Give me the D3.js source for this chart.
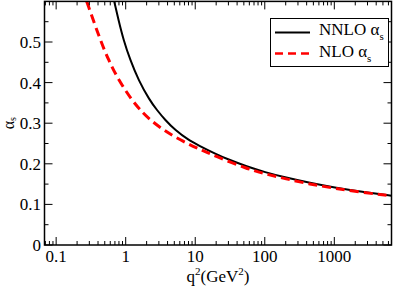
<!DOCTYPE html>
<html>
<head>
<meta charset="utf-8">
<script src="https://cdn.jsdelivr.net/npm/d3@7"></script>
<style>
  body { margin: 0; background: #fff; }
</style>
</head>
<body>
<div id="chart"></div>
<script>
// Data
const q2NNLO = [0.684, 0.788, 0.93, 1.16, 1.527, 2.2, 2.81, 3.69, 5.14, 7.98, 11.0, 20, 30, 55, 100, 200, 447, 1000, 2500, 6640];
const alphaNNLO = [0.600, 0.554, 0.505, 0.456, 0.406, 0.357, 0.3325, 0.308, 0.283, 0.2586, 0.246, 0.2237, 0.2105, 0.1934, 0.1795, 0.166, 0.153, 0.1415, 0.131, 0.1215];

const q2NLO = [0.275, 0.43, 0.566, 0.788, 1.227, 1.616, 2.25, 3.49, 6.07, 11.1, 20, 55, 100, 200, 447, 1000, 2500, 6640];
const alphaNLO = [0.600, 0.505, 0.4557, 0.4064, 0.357, 0.3325, 0.3079, 0.2833, 0.2586, 0.237, 0.218, 0.188, 0.1754, 0.163, 0.150, 0.1397, 0.1297, 0.121];

const xTicks = [0.1, 1, 10, 100, 1000];
const xTickLabels = ["0.1", "1", "10", "100", "1000"];
const yTicks = [0, 0.1, 0.2, 0.3, 0.4, 0.5];
const yTickLabels = ["0", "0.1", "0.2", "0.3", "0.4", "0.5"];

const width = 395;
const height = 287;
const pLeft = 44.5, pRight = 391.5, pTop = 1.4, pBottom = 245;
const serif = "'Liberation Serif', 'Times New Roman', Times, serif";

const svg = d3
  .select("#chart")
  .append("svg")
  .attr("width", width)
  .attr("height", height)
  .attr("font-family", serif);

const x = d3.scaleLog().domain([0.068, 6640]).range([pLeft, pRight]);
const y = d3.scaleLinear().domain([0, 0.6]).range([pBottom, pTop]);

// minor ticks
const xMinor = [];
[0.01, 0.1, 1, 10, 100, 1000].forEach((d) => {
  for (let k = 2; k <= 9; k++) {
    const v = d * k;
    if (v >= x.domain()[0] && v <= x.domain()[1]) xMinor.push(v);
  }
});
const yMinor = d3.range(0.05, 0.6, 0.1);

// clip region
svg.append("clipPath").attr("id", "clip")
  .append("rect")
  .attr("x", pLeft).attr("y", pTop)
  .attr("width", pRight - pLeft).attr("height", pBottom - pTop);

const line = d3.line()
  .x((d) => x(d[0]))
  .y((d) => y(d[1]))
  .curve(d3.curveBasis);

const nnlo = q2NNLO.map((q, i) => [q, alphaNNLO[i]]);
const nlo = q2NLO.map((q, i) => [q, alphaNLO[i]]);

const curves = svg.append("g").attr("clip-path", "url(#clip)");
curves.append("path")
  .datum(nnlo)
  .attr("fill", "none")
  .attr("stroke", "#000")
  .attr("stroke-width", 2)
  .attr("d", line);
curves.append("path")
  .datum(nlo)
  .attr("fill", "none")
  .attr("stroke", "#f00")
  .attr("stroke-width", 3)
  .attr("stroke-dasharray", "9,5")
  .attr("d", line);

// axes with inward ticks on all four sides
const tickGroup = svg.append("g").attr("stroke", "#000").attr("stroke-width", 1);
function xTickMarks(vals, len) {
  vals.forEach((v) => {
    tickGroup.append("line").attr("x1", x(v)).attr("x2", x(v)).attr("y1", pBottom).attr("y2", pBottom - len);
    tickGroup.append("line").attr("x1", x(v)).attr("x2", x(v)).attr("y1", pTop).attr("y2", pTop + len);
  });
}
function yTickMarks(vals, len) {
  vals.forEach((v) => {
    tickGroup.append("line").attr("y1", y(v)).attr("y2", y(v)).attr("x1", pLeft).attr("x2", pLeft + len);
    tickGroup.append("line").attr("y1", y(v)).attr("y2", y(v)).attr("x1", pRight).attr("x2", pRight - len);
  });
}
xTickMarks(xTicks, 8);
xTickMarks(xMinor, 4);
yTickMarks(yTicks, 8);
yTickMarks(yMinor, 4);

svg.append("rect")
  .attr("x", pLeft).attr("y", pTop)
  .attr("width", pRight - pLeft).attr("height", pBottom - pTop)
  .attr("fill", "none")
  .attr("stroke", "#000")
  .attr("stroke-width", 1.5);

// tick labels
svg.selectAll(".xlab")
  .data(xTicks)
  .enter()
  .append("text")
  .attr("x", (d) => x(d))
  .attr("y", 262)
  .attr("text-anchor", "middle")
  .attr("font-family", serif)
  .attr("font-size", 17)
  .text((d, i) => xTickLabels[i]);

svg.selectAll(".ylab")
  .data(yTicks)
  .enter()
  .append("text")
  .attr("x", 41)
  .attr("y", (d) => y(d) + 6)
  .attr("text-anchor", "end")
  .attr("font-family", serif)
  .attr("font-size", 17)
  .text((d, i) => yTickLabels[i]);

// axis titles
const xt = svg.append("text")
  .attr("x", (pLeft + pRight) / 2)
  .attr("y", 282)
  .attr("text-anchor", "middle")
  .attr("font-family", serif)
  .attr("font-size", 17);
xt.append("tspan").text("q");
xt.append("tspan").attr("dy", -7).attr("font-size", 11).text("2");
xt.append("tspan").attr("dy", 7).text("(GeV");
xt.append("tspan").attr("dy", -7).attr("font-size", 11).text("2");
xt.append("tspan").attr("dy", 7).text(")");

const yt = svg.append("text")
  .attr("transform", `translate(13.5, ${(pTop + pBottom) / 2}) rotate(-90)`)
  .attr("text-anchor", "middle")
  .attr("font-family", serif)
  .attr("font-size", 16);
yt.append("tspan").text("α");
yt.append("tspan").attr("dy", 2).attr("font-size", 10).text("s");

// legend
const lg = svg.append("g");
lg.append("rect")
  .attr("x", 270.5).attr("y", 18.5)
  .attr("width", 118).attr("height", 48)
  .attr("fill", "#fff")
  .attr("stroke", "#000")
  .attr("stroke-width", 1);
lg.append("line")
  .attr("x1", 275).attr("x2", 310).attr("y1", 32.5).attr("y2", 32.5)
  .attr("stroke", "#000").attr("stroke-width", 2);
lg.append("line")
  .attr("x1", 275).attr("x2", 310).attr("y1", 53.5).attr("y2", 53.5)
  .attr("stroke", "#f00").attr("stroke-width", 2.5)
  .attr("stroke-dasharray", "8,5");
const legendNames = ["NNLO α", "NLO α"];
legendNames.forEach((name, i) => {
  const t = lg.append("text")
    .attr("x", 319)
    .attr("y", 35 + i * 21.5)
    .attr("font-family", serif)
    .attr("font-size", 17);
  t.append("tspan").text(name);
  t.append("tspan").attr("dy", 5).attr("font-size", 11).text("s");
});
</script>
</body>
</html>
